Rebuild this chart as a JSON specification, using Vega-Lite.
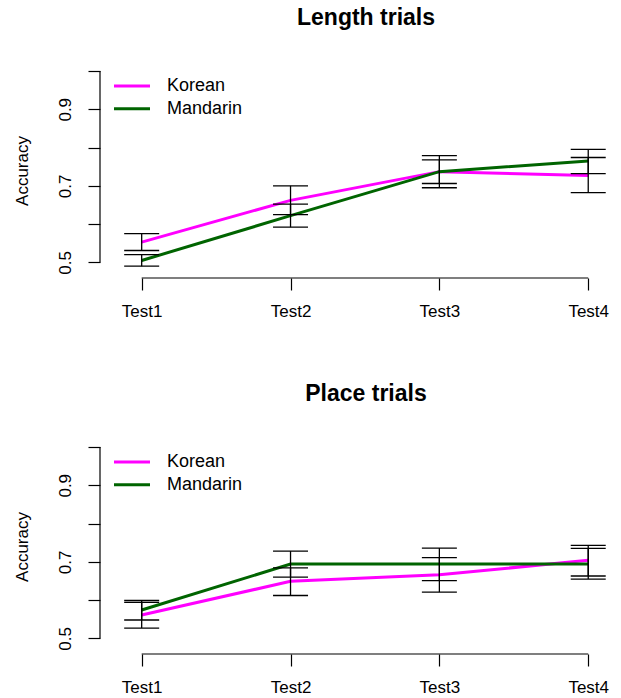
{
  "$schema": "https://vega.github.io/schema/vega-lite/v6.json",
  "padding": {"left": 13, "top": 7, "right": 0, "bottom": 0},
  "background": "white",
  "datasets": {
    "length": [
      {"t": 1, "group": "Korean", "mean": 0.553, "lo": 0.531, "hi": 0.575},
      {"t": 2, "group": "Korean", "mean": 0.662, "lo": 0.625, "hi": 0.700},
      {"t": 3, "group": "Korean", "mean": 0.737, "lo": 0.695, "hi": 0.779},
      {"t": 4, "group": "Korean", "mean": 0.727, "lo": 0.682, "hi": 0.774},
      {"t": 1, "group": "Mandarin", "mean": 0.505, "lo": 0.490, "hi": 0.520},
      {"t": 2, "group": "Mandarin", "mean": 0.622, "lo": 0.592, "hi": 0.652},
      {"t": 3, "group": "Mandarin", "mean": 0.737, "lo": 0.706, "hi": 0.768},
      {"t": 4, "group": "Mandarin", "mean": 0.765, "lo": 0.732, "hi": 0.795}
    ],
    "place": [
      {"t": 1, "group": "Korean", "mean": 0.561, "lo": 0.527, "hi": 0.594},
      {"t": 2, "group": "Korean", "mean": 0.649, "lo": 0.612, "hi": 0.684},
      {"t": 3, "group": "Korean", "mean": 0.666, "lo": 0.621, "hi": 0.711},
      {"t": 4, "group": "Korean", "mean": 0.704, "lo": 0.663, "hi": 0.743},
      {"t": 1, "group": "Mandarin", "mean": 0.574, "lo": 0.548, "hi": 0.599},
      {"t": 2, "group": "Mandarin", "mean": 0.694, "lo": 0.660, "hi": 0.728},
      {"t": 3, "group": "Mandarin", "mean": 0.694, "lo": 0.651, "hi": 0.736},
      {"t": 4, "group": "Mandarin", "mean": 0.694, "lo": 0.655, "hi": 0.735}
    ],
    "one": [{}]
  },
  "config": {
    "font": "Liberation Sans",
    "view": {"stroke": null},
    "title": {"fontSize": 23, "fontWeight": "bold", "color": "black", "anchor": "middle", "frame": "group", "dx": 7, "baseline": "alphabetic", "offset": 33},
    "axis": {"grid": false, "domain": false, "tickColor": "black", "tickWidth": 1.2, "tickSize": 12, "labelColor": "black", "labelFontSize": 17, "titleColor": "black", "titleFontSize": 17, "titleFontWeight": "normal", "labelFlush": false, "labelOverlap": false},
    "legend": {"orient": "top-left", "offset": 14, "padding": 0, "title": null, "symbolType": "M-3,0H3", "symbolSize": 144, "symbolStrokeWidth": 3, "symbolOffset": 9, "labelOffset": 26, "labelFontSize": 18, "labelColor": "black", "rowPadding": 4.7}
  },
  "spacing": 64,
  "resolve": {"scale": {"color": "independent"}, "legend": {"color": "independent"}},
  "vconcat": [
    {
      "width": 518, "height": 215,
      "title": "Length trials",
      "layer": [
        {
          "data": {"name": "length"},
          "mark": {"type": "line", "strokeWidth": 3},
          "encoding": {
            "x": {"field": "t", "type": "quantitative", "scale": {"domain": [0.72, 4.2], "nice": false, "zero": false},
                  "axis": {"values": [1, 2, 3, 4], "labelExpr": "'Test' + datum.value", "title": null, "labelPadding": 13}},
            "y": {"field": "mean", "type": "quantitative", "scale": {"domain": [0.4592, 1.0208], "nice": false, "zero": false},
                  "axis": {"values": [0.5, 0.6, 0.7, 0.8, 0.9, 1.0], "labelExpr": "(datum.value == 0.5 || datum.value == 0.7 || datum.value == 0.9) ? format(datum.value, '.1f') : ''", "labelAngle": -90, "labelAlign": "center", "labelBaseline": "bottom", "labelPadding": 14, "title": "Accuracy", "titlePadding": 25}},
            "color": {"field": "group", "type": "nominal", "scale": {"domain": ["Korean", "Mandarin"], "range": ["#FF00FF", "#006400"]}}
          }
        },
        {
          "data": {"name": "length"},
          "mark": {"type": "rule", "color": "black", "strokeWidth": 1.3},
          "encoding": {"x": {"field": "t", "type": "quantitative"}, "y": {"field": "lo", "type": "quantitative"}, "y2": {"field": "hi"}}
        },
        {
          "data": {"name": "length"},
          "mark": {"type": "tick", "orient": "horizontal", "size": 35, "thickness": 1.3, "color": "black", "opacity": 1},
          "encoding": {"x": {"field": "t", "type": "quantitative"}, "y": {"field": "lo", "type": "quantitative"}}
        },
        {
          "data": {"name": "length"},
          "mark": {"type": "tick", "orient": "horizontal", "size": 35, "thickness": 1.3, "color": "black", "opacity": 1},
          "encoding": {"x": {"field": "t", "type": "quantitative"}, "y": {"field": "hi", "type": "quantitative"}}
        },
        {
          "data": {"name": "one"},
          "mark": {"type": "rule", "color": "black", "strokeWidth": 1.2},
          "encoding": {"x": {"datum": 0.72, "type": "quantitative"}, "y": {"datum": 0.5, "type": "quantitative"}, "y2": {"datum": 1.0}}
        },
        {
          "data": {"name": "one"},
          "mark": {"type": "rule", "color": "black", "strokeWidth": 1.2},
          "encoding": {"y": {"datum": 0.4592, "type": "quantitative"}, "x": {"datum": 1, "type": "quantitative"}, "x2": {"datum": 4}}
        }
      ]
    },
    {
      "width": 518, "height": 215,
      "title": "Place trials",
      "layer": [
        {
          "data": {"name": "place"},
          "mark": {"type": "line", "strokeWidth": 3},
          "encoding": {
            "x": {"field": "t", "type": "quantitative", "scale": {"domain": [0.72, 4.2], "nice": false, "zero": false},
                  "axis": {"values": [1, 2, 3, 4], "labelExpr": "'Test' + datum.value", "title": null, "labelPadding": 13}},
            "y": {"field": "mean", "type": "quantitative", "scale": {"domain": [0.4592, 1.0208], "nice": false, "zero": false},
                  "axis": {"values": [0.5, 0.6, 0.7, 0.8, 0.9, 1.0], "labelExpr": "(datum.value == 0.5 || datum.value == 0.7 || datum.value == 0.9) ? format(datum.value, '.1f') : ''", "labelAngle": -90, "labelAlign": "center", "labelBaseline": "bottom", "labelPadding": 14, "title": "Accuracy", "titlePadding": 25}},
            "color": {"field": "group", "type": "nominal", "scale": {"domain": ["Korean", "Mandarin"], "range": ["#FF00FF", "#006400"]}}
          }
        },
        {
          "data": {"name": "place"},
          "mark": {"type": "rule", "color": "black", "strokeWidth": 1.3},
          "encoding": {"x": {"field": "t", "type": "quantitative"}, "y": {"field": "lo", "type": "quantitative"}, "y2": {"field": "hi"}}
        },
        {
          "data": {"name": "place"},
          "mark": {"type": "tick", "orient": "horizontal", "size": 35, "thickness": 1.3, "color": "black", "opacity": 1},
          "encoding": {"x": {"field": "t", "type": "quantitative"}, "y": {"field": "lo", "type": "quantitative"}}
        },
        {
          "data": {"name": "place"},
          "mark": {"type": "tick", "orient": "horizontal", "size": 35, "thickness": 1.3, "color": "black", "opacity": 1},
          "encoding": {"x": {"field": "t", "type": "quantitative"}, "y": {"field": "hi", "type": "quantitative"}}
        },
        {
          "data": {"name": "one"},
          "mark": {"type": "rule", "color": "black", "strokeWidth": 1.2},
          "encoding": {"x": {"datum": 0.72, "type": "quantitative"}, "y": {"datum": 0.5, "type": "quantitative"}, "y2": {"datum": 1.0}}
        },
        {
          "data": {"name": "one"},
          "mark": {"type": "rule", "color": "black", "strokeWidth": 1.2},
          "encoding": {"y": {"datum": 0.4592, "type": "quantitative"}, "x": {"datum": 1, "type": "quantitative"}, "x2": {"datum": 4}}
        }
      ]
    }
  ]
}
